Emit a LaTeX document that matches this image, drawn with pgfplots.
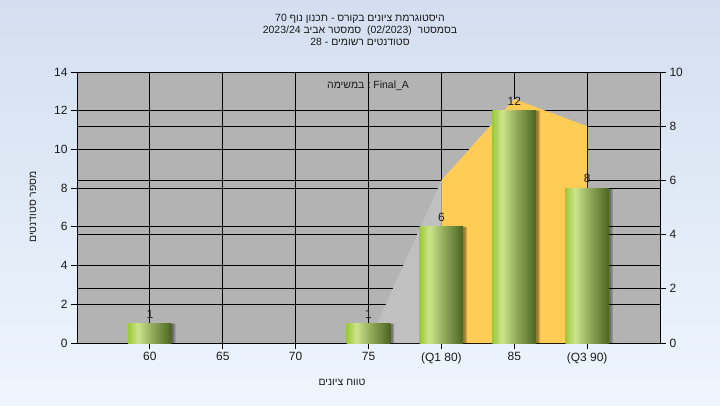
\documentclass[border=0pt]{standalone}
\usepackage{fontspec}
\setmainfont{Liberation Sans}
\newfontfamily\hebfont[Script=Hebrew]{Liberation Sans}
\TeXXeTstate=1
\usepackage{pgfplots}
\pgfplotsset{compat=1.18}

\definecolor{bgtop}{HTML}{D3DFF0}
\definecolor{bgbot}{HTML}{EEF5FD}
\definecolor{plotgray}{HTML}{B3B3B3}
\definecolor{areagray}{HTML}{C0C0C0}
\definecolor{areaorange}{HTML}{FFCC55}
\definecolor{gA}{HTML}{9CC83A}
\definecolor{gB}{HTML}{CCE48C}
\definecolor{gC}{HTML}{93AC5C}
\definecolor{gD}{HTML}{4A6420}
\definecolor{txt}{HTML}{1A1A1A}
\pgfdeclarehorizontalshading{barshade}{100bp}{color(0bp)=(gA); color(25bp)=(gA); color(36bp)=(gB); color(52bp)=(gC); color(75bp)=(gD); color(100bp)=(gD)}

\newcommand{\tfont}{\fontsize{10.5}{12}\selectfont}
\newcommand{\kfont}{\fontsize{12}{14}\selectfont}

\pgfplotsset{
  greenbar/.style={ybar, bar width=0.6, bar shift=0pt, draw=none, shade, shading=barshade,
    nodes near coords,
    every node near coord/.append style={font=\kfont, text=txt, anchor=south, yshift=2bp}},
}

\begin{document}
\begin{tikzpicture}[x=1bp,y=1bp]
\shade[top color=bgtop, bottom color=bgbot] (0,0) rectangle (720,405);
\useasboundingbox (0,0) rectangle (720,405);

% right-scale axis: background, grids, areas
\begin{axis}[
  at={(77bp,62bp)}, anchor=south west,
  scale only axis, width=583bp, height=271bp,
  xmin=-1, xmax=7, ymin=0, ymax=10,
  axis x line*=bottom, axis y line*=right,
  xtick={0,1,2,3,4,5,6}, xticklabels={},
  ytick={0,2,4,6,8,10},
  extra y ticks={1.428571,2.857143,4.285714,5.714286,7.142857,8.571429},
  extra y tick labels={},
  extra y tick style={major tick length=0pt, grid=major},
  xmajorgrids, ymajorgrids,
  grid style={black, line width=0.9bp},
  axis background/.style={fill=plotgray},
  tick align=outside, major tick length=6bp,
  tick style={black, line width=0.9bp},
  y axis line style={black, line width=0.9bp},
  x axis line style={draw=none},
  ticklabel style={font=\kfont, text=txt},
  /pgf/number format/assume math mode=true,
]
\addplot[fill=areagray, draw=none] coordinates {(3,0) (4,6)} \closedcycle;
\addplot[fill=areaorange, draw=none] coordinates {(4,6) (5,9) (6,8)} \closedcycle;
\end{axis}

% left-scale axis: bars
\begin{axis}[
  at={(77bp,62bp)}, anchor=south west,
  scale only axis, width=583bp, height=271bp,
  xmin=-1, xmax=7, ymin=0, ymax=14,
  axis x line*=bottom, axis y line*=left,
  xtick={0,1,2,3,4,5,6},
  xticklabels={60,65,70,75,(Q1 80),85,(Q3 90)},
  ytick={0,2,4,6,8,10,12,14},
  tick align=outside, major tick length=6bp,
  tick style={black, line width=0.9bp},
  y axis line style={black, line width=0.9bp},
  x axis line style={draw=none},
  ticklabel style={font=\kfont, text=txt},
  /pgf/number format/assume math mode=true,
]
\addplot[ybar, bar width=0.6, bar shift=4bp, fill=black, fill opacity=0.18, draw=none]
  coordinates {(0,1) (3,1) (4,6) (5,12) (6,8)};
\addplot[ybar, bar width=0.6, bar shift=2.5bp, fill=black, fill opacity=0.25, draw=none]
  coordinates {(0,1) (3,1) (4,6) (5,12) (6,8)};
\addplot[greenbar] coordinates {(0,1)};
\addplot[greenbar] coordinates {(3,1)};
\addplot[greenbar] coordinates {(4,6)};
\addplot[greenbar] coordinates {(5,12)};
\addplot[greenbar] coordinates {(6,8)};
\end{axis}

% texts
\node[anchor=base, font=\tfont, text=txt] at (360,383.5) {\hebfont\beginR היסטוגרמת ציונים בקורס - תכנון נוף \beginL 70\endL\endR};
\node[anchor=base, font=\tfont, text=txt] at (360,371.5) {\hebfont\beginR בסמסטר~~\beginL(02/2023)\endL~~סמסטר אביב \beginL 2023/24\endL\endR};
\node[anchor=base, font=\tfont, text=txt] at (360,360) {\hebfont\beginR סטודנטים רשומים - \beginL 28\endL\endR};
\node[font=\tfont, text=txt] at (368,319) {{\hebfont\beginR במשימה\endR}\hspace{2.5bp}{\fontsize{12}{14}\bfseries\char58}\hspace{2.5bp}Final\_A};
\node[font=\tfont, text=txt, rotate=90] at (33,198) {\hebfont\beginR מספר סטודנטים\endR};
\node[font=\tfont, text=txt] at (342,23) {\hebfont\beginR טווח ציונים\endR};
\end{tikzpicture}
\end{document}
